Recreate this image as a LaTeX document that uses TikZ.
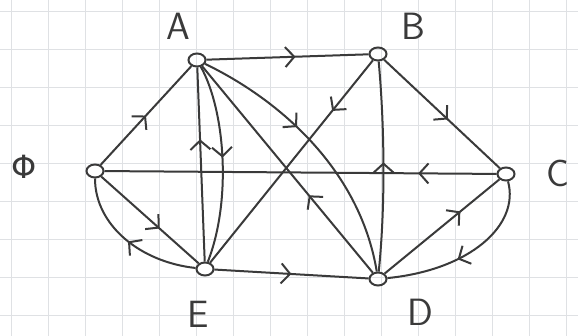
\documentclass[tikz,border=0pt]{standalone}
\usepackage{fontspec}
\newfontfamily\grkfont{DejaVu Sans}
\usetikzlibrary{arrows.meta,decorations.markings,shapes.geometric}
\definecolor{ink}{HTML}{3A3A3A}
\definecolor{gridc}{HTML}{DFE1E4}
\begin{document}
\begin{tikzpicture}[x=1pt,y=-1pt,
  vtx/.style={ellipse,draw=ink,line width=2pt,minimum width=17pt,minimum height=13pt,inner sep=0pt},
  edge/.style={draw=ink,line width=2pt},
  gridline/.style={draw=gridc,line width=0.8pt},
  lbl/.style={font=\sffamily\fontsize{38}{40}\selectfont,text=ink,inner sep=1pt},
  mk/.style={postaction={decorate},decoration={markings,mark=at position #1 with {\arrow{Straight Barb[length=9pt,width=20pt,line width=2pt]}}}}]
\useasboundingbox (0,0) rectangle (578,336);
\fill[white] (0,0) rectangle (578,336);
\foreach \x in {11,48,...,570} \draw[gridline] (\x,0) -- (\x,336);
\foreach \y in {11,49,...,336} \draw[gridline] (0,\y) -- (578,\y);
% vertices
\node[vtx] (A) at (197,60) {};
\node[vtx] (B) at (378,54) {};
\node[vtx] (C) at (506,174) {};
\node[vtx] (D) at (378,279) {};
\node[vtx] (E) at (205,269) {};
\node[vtx] (F) at (95,171) {};
% labels
\node[lbl] (lA) at (178,26) {A};
\node[lbl] (lB) at (413,26) {B};
\node[lbl] (lC) at (558,173) {C};
\node[lbl] (lD) at (420,312) {D};
\node[lbl] (lE) at (198,314) {E};
\node[lbl,font=\grkfont\fontsize{32}{34}\selectfont] (lF) at (24,167) {Φ};
% edges
\draw[edge,mk=0.55] (A) -- (B);
\draw[edge,mk=0.55] (B) -- (C);
\draw[edge,mk=0.2] (C) -- (F);
\draw[edge,mk=0.5] (F) -- (A);
\draw[edge,mk=0.6] (F) -- (E);
\draw[edge,mk=0.5] (E) .. controls (140,262) and (95,225) .. (F);
\draw[edge,mk=0.63] (E) -- (A);
\draw[edge,mk=0.47] (A) .. controls (225,110) and (232,200) .. (E);
\draw[edge,mk=0.4] (A) .. controls (280,100) and (360,170) .. (D);
\draw[edge,mk=0.375] (D) -- (A);
\draw[edge,mk=0.25] (B) -- (E);
\draw[edge,mk=0.52] (D) .. controls (386,200) and (384,120) .. (B);
\draw[edge,mk=0.5] (E) -- (D);
\draw[edge,mk=0.66] (D) -- (C);
\draw[edge,mk=0.58] (C) .. controls (520,225) and (470,270) .. (D);
\end{tikzpicture}
\end{document}
